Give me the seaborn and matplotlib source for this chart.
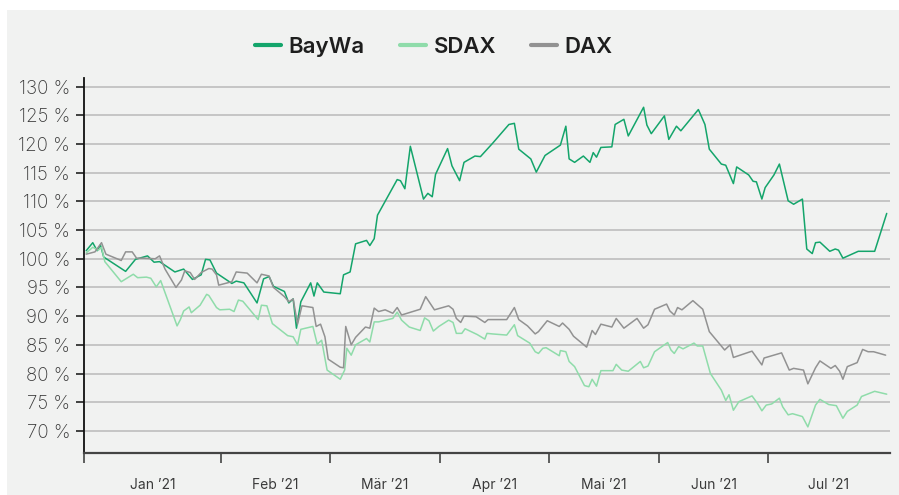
"""
BayWa share price vs. SDAX and DAX, indexed (start = 100 %)
"""

# %% Imports
import pandas as pd
import seaborn as sns
from matplotlib import pyplot as plt
from matplotlib.patches import Rectangle
from matplotlib.ticker import FixedLocator

# %% Data (x in months from chart start, values in % of start level)
BAYWA_X = [0.02, 0.08, 0.12, 0.15, 0.18, 0.38, 0.47, 0.58, 0.64, 0.69, 0.83, 0.91, 0.99, 1.07, 1.11,
           1.15, 1.21, 1.35, 1.39, 1.46, 1.58, 1.64, 1.69, 1.73, 1.83, 1.87, 1.91, 1.94, 1.98, 2.07,
           2.10, 2.13, 2.19, 2.34, 2.37, 2.43, 2.48, 2.58, 2.61, 2.65, 2.68, 2.86, 2.89, 2.93, 2.98,
           3.10, 3.14, 3.18, 3.21, 3.32, 3.36, 3.43, 3.47, 3.57, 3.62, 3.73, 3.88, 3.93, 3.97, 4.08,
           4.13, 4.21, 4.35, 4.40, 4.43, 4.48, 4.56, 4.62, 4.65, 4.68, 4.72, 4.82, 4.85, 4.93, 4.97,
           5.11, 5.14, 5.18, 5.30, 5.34, 5.41, 5.45, 5.61, 5.67, 5.71, 5.82, 5.86, 5.93, 5.96, 6.07,
           6.11, 6.14, 6.19, 6.22, 6.30, 6.35, 6.43, 6.48, 6.56, 6.60, 6.65, 6.68, 6.72, 6.81, 6.86,
           6.89, 6.93, 7.07, 7.22, 7.33]
BAYWA = [101.4, 102.8, 101.4, 102.4, 100.3, 97.8, 99.9, 100.5, 99.4, 99.5, 97.7, 98.2, 96.4, 97.2, 99.9,
         99.8, 97.5, 95.7, 96.1, 95.8, 92.3, 96.5, 96.9, 95.2, 94.3, 92.3, 93.0, 87.9, 92.5, 95.8,
         93.5, 95.8, 94.2, 93.9, 97.2, 97.7, 102.6, 103.2, 102.3, 103.5, 107.6, 113.8, 113.6, 112.2, 119.6,
         110.4, 111.4, 110.8, 114.7, 119.2, 116.2, 113.6, 116.8, 117.9, 117.8, 120.1, 123.4, 123.6, 119.1, 117.4,
         115.1, 118.0, 119.8, 123.1, 117.4, 116.8, 117.9, 116.8, 118.5, 117.7, 119.4, 119.5, 123.4, 124.3, 121.4,
         126.4, 123.3, 121.8, 124.9, 120.8, 123.1, 122.3, 126.0, 123.4, 119.1, 116.5, 116.3, 113.1, 116.0, 114.6,
         113.5, 113.4, 110.4, 112.4, 114.6, 116.5, 110.1, 109.5, 110.4, 101.7, 100.9, 102.8, 102.9, 101.3, 101.7,
         101.5, 100.1, 101.3, 101.3, 107.9]

SDAX_X = [0.02, 0.08, 0.13, 0.16, 0.19, 0.34, 0.45, 0.49, 0.57, 0.61, 0.66, 0.70, 0.85, 0.88, 0.91,
          0.96, 0.98, 1.06, 1.12, 1.14, 1.21, 1.24, 1.33, 1.37, 1.41, 1.45, 1.59, 1.62, 1.67, 1.72,
          1.86, 1.91, 1.95, 1.98, 2.09, 2.13, 2.17, 2.22, 2.34, 2.38, 2.40, 2.44, 2.48, 2.58, 2.61,
          2.65, 2.69, 2.82, 2.86, 2.90, 2.97, 3.07, 3.11, 3.15, 3.19, 3.24, 3.33, 3.37, 3.40, 3.45,
          3.48, 3.59, 3.66, 3.68, 3.73, 3.86, 3.93, 3.96, 4.07, 4.12, 4.15, 4.19, 4.22, 4.34, 4.35,
          4.40, 4.43, 4.48, 4.57, 4.61, 4.64, 4.68, 4.72, 4.83, 4.86, 4.91, 4.97, 5.08, 5.11, 5.15,
          5.21, 5.33, 5.36, 5.39, 5.43, 5.47, 5.57, 5.60, 5.65, 5.72, 5.82, 5.86, 5.89, 5.93, 5.98,
          6.10, 6.15, 6.19, 6.23, 6.28, 6.35, 6.38, 6.43, 6.47, 6.56, 6.61, 6.68, 6.72, 6.80, 6.87,
          6.93, 6.97, 7.06, 7.10, 7.22, 7.33]
SDAX = [101.0, 102.0, 101.5, 102.0, 99.5, 96.0, 97.3, 96.7, 96.8, 96.6, 95.1, 96.2, 88.3, 89.4, 90.9,
        91.6, 90.6, 91.9, 93.8, 93.6, 91.5, 91.1, 91.2, 90.8, 92.8, 92.6, 89.4, 91.9, 91.8, 88.7,
        86.6, 86.4, 85.0, 87.7, 88.2, 85.1, 85.8, 80.6, 79.0, 80.6, 84.4, 83.2, 85.0, 86.1, 85.5,
        89.0, 89.0, 89.6, 90.7, 89.3, 88.1, 87.5, 89.7, 89.2, 87.4, 88.2, 89.3, 88.9, 87.0, 87.0,
        87.8, 86.8, 86.0, 87.0, 86.9, 86.7, 88.5, 86.6, 85.3, 83.8, 83.5, 84.4, 84.5, 83.1, 84.0,
        83.8, 82.1, 81.2, 77.9, 77.7, 79.0, 77.8, 80.5, 80.5, 81.6, 80.6, 80.4, 82.1, 81.0, 81.3,
        83.8, 85.4, 84.1, 83.5, 84.7, 84.3, 85.3, 84.8, 84.8, 80.0, 77.1, 75.3, 76.3, 73.6, 75.1,
        76.1, 74.8, 73.5, 74.5, 74.7, 75.7, 74.2, 72.8, 73.0, 72.5, 70.7, 74.5, 75.5, 74.6, 74.4,
        72.2, 73.4, 74.5, 76.0, 76.9, 76.4]

DAX_X = [0.02, 0.10, 0.16, 0.20, 0.34, 0.38, 0.44, 0.48, 0.54, 0.65, 0.69, 0.74, 0.84, 0.89, 0.92,
         0.97, 1.01, 1.07, 1.14, 1.17, 1.21, 1.23, 1.35, 1.39, 1.49, 1.58, 1.62, 1.69, 1.73, 1.83,
         1.87, 1.91, 1.95, 1.99, 2.09, 2.12, 2.16, 2.20, 2.23, 2.34, 2.37, 2.39, 2.44, 2.48, 2.57,
         2.61, 2.65, 2.69, 2.75, 2.82, 2.86, 2.90, 3.07, 3.12, 3.20, 3.33, 3.37, 3.40, 3.44, 3.47,
         3.58, 3.66, 3.69, 3.86, 3.93, 3.97, 4.05, 4.12, 4.15, 4.23, 4.34, 4.37, 4.43, 4.47, 4.59,
         4.64, 4.67, 4.72, 4.82, 4.86, 4.93, 5.05, 5.11, 5.15, 5.21, 5.32, 5.35, 5.39, 5.42, 5.46,
         5.56, 5.65, 5.71, 5.85, 5.90, 5.93, 6.10, 6.19, 6.21, 6.37, 6.44, 6.48, 6.57, 6.61, 6.68,
         6.72, 6.82, 6.86, 6.90, 6.93, 6.97, 7.06, 7.11, 7.16, 7.21, 7.32]
DAX = [100.8, 101.2, 102.8, 100.8, 99.7, 101.2, 101.2, 100.1, 100.1, 100.0, 100.5, 98.2, 95.0, 96.3, 97.9,
       97.6, 96.4, 97.6, 98.3, 98.2, 97.2, 95.4, 96.0, 97.7, 97.5, 95.8, 97.3, 97.0, 95.0, 93.4,
       92.5, 93.0, 88.6, 91.8, 91.5, 88.2, 88.6, 86.4, 82.5, 81.1, 81.0, 88.2, 85.0, 86.3, 88.1,
       87.9, 91.4, 90.8, 91.1, 90.5, 91.5, 90.2, 91.2, 93.4, 91.1, 91.8, 91.2, 89.6, 88.9, 90.0,
       89.9, 88.9, 89.4, 89.4, 91.5, 89.4, 88.3, 86.9, 87.3, 89.2, 88.2, 88.8, 87.7, 86.5, 84.6,
       87.5, 86.8, 88.6, 88.1, 89.6, 87.9, 89.6, 87.9, 88.5, 91.2, 92.1, 90.9, 90.2, 91.5, 91.1,
       92.7, 91.2, 87.3, 84.1, 85.0, 82.8, 83.9, 81.5, 82.7, 83.6, 80.6, 80.9, 80.6, 78.2, 81.0,
       82.2, 80.9, 81.4, 80.4, 79.0, 81.2, 81.9, 84.2, 83.8, 83.8, 83.2]

SERIES = ["BayWa", "SDAX", "DAX"]
COLORS = {"BayWa": "#14a56b", "SDAX": "#8fdcaa", "DAX": "#929292"}

MONTH_EDGES = [0, 1.25, 2.25, 3.25, 4.25, 5.25, 6.25]
MONTH_CENTERS = [0.625, 1.75, 2.75, 3.75, 4.75, 5.75, 6.8]
MONTH_LABELS = ["Jan \u201921", "Feb \u201921", "Mär \u201921", "Apr \u201921", "Mai \u201921", "Jun \u201921", "Jul \u201921"]
Y_TICKS = list(range(70, 131, 5))

BG = "#f1f2f1"

# %% Figure
sns.set_style("white", {"axes.facecolor": BG})
plt.rcParams["font.family"] = ["Inter", "DejaVu Sans"]

df = pd.concat(
    [
        pd.DataFrame({"x": BAYWA_X, "value": BAYWA, "series": "BayWa"}),
        pd.DataFrame({"x": SDAX_X, "value": SDAX, "series": "SDAX"}),
        pd.DataFrame({"x": DAX_X, "value": DAX, "series": "DAX"}),
    ],
    ignore_index=True,
)

fig = plt.figure(figsize=(8.99, 4.95), dpi=100, facecolor="white")
fig.patches.append(
    Rectangle((7 / 899, 0), 1, 1 - 10 / 495, transform=fig.transFigure, facecolor=BG, edgecolor="none", zorder=-10)
)
ax = fig.add_axes([84 / 899, 1 - 453 / 495, 806 / 899, 375 / 495])

# grid first so lines sit on top
for y in Y_TICKS:
    ax.axhline(y, color="#c2c2c2", linewidth=1.3, zorder=1)

sns.lineplot(
    data=df,
    x="x",
    y="value",
    hue="series",
    hue_order=SERIES,
    palette=COLORS,
    estimator=None,
    sort=False,
    linewidth=1.1,
    ax=ax,
    zorder=3,
)

ax.set_xlim(0, 7.36)
ax.set_ylim(66.15, 131.5)
ax.set_xlabel("")
ax.set_ylabel("")

# y axis
ax.set_yticks(Y_TICKS)
ax.set_yticklabels([f"{v} %" for v in Y_TICKS], fontsize=13.5, color="#3a3a3a", fontweight="light")
ax.tick_params(axis="y", length=6, width=1.2, color="#222222", pad=4, left=True)

# x axis: month boundaries as ticks, labels centred in between
ax.xaxis.set_major_locator(FixedLocator(MONTH_EDGES))
ax.xaxis.set_minor_locator(FixedLocator(MONTH_CENTERS))
ax.set_xticklabels([""] * len(MONTH_EDGES))
ax.set_xticklabels(MONTH_LABELS, minor=True, fontsize=10, color="#3a3a3a")
ax.tick_params(axis="x", which="major", length=7, width=1.2, color="#444444", bottom=True)
ax.tick_params(axis="x", which="minor", length=0, pad=18)

ax.spines[["top", "right"]].set_visible(False)
ax.spines["left"].set_color("#111111")
ax.spines["left"].set_linewidth(1.3)
ax.spines["bottom"].set_color("#444444")
ax.spines["bottom"].set_linewidth(1.6)

sns.move_legend(
    ax,
    loc="center",
    bbox_to_anchor=((434 - 84) / 806, (453 - 47) / 375),
    ncol=3,
    frameon=False,
    title=None,
    fontsize=16,
    handlelength=1.15,
    handletextpad=0.35,
    columnspacing=1.6,
)
leg = ax.get_legend()
for line in leg.get_lines():
    line.set_linewidth(3)
for text in leg.get_texts():
    text.set_fontweight("semibold")
    text.set_color("#1e1e1e")

fig.savefig("out.png", dpi=100, facecolor=fig.get_facecolor())
